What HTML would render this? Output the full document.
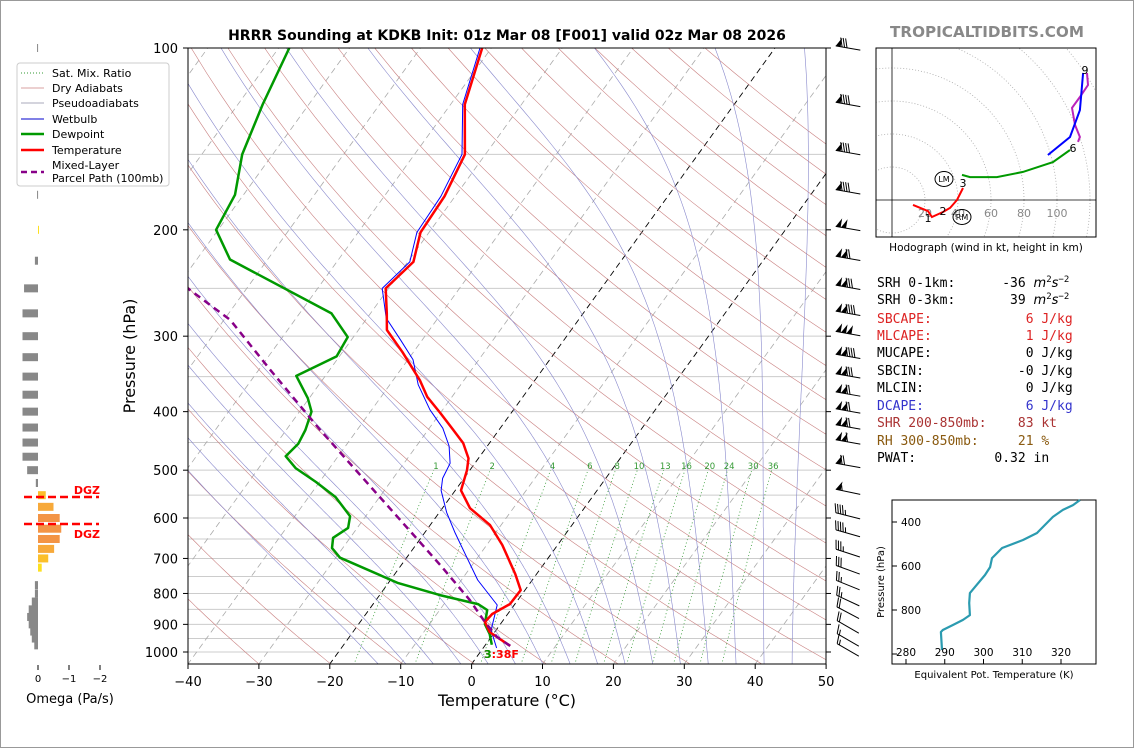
<!DOCTYPE html>
<html><head><meta charset="utf-8"><style>
html,body{margin:0;padding:0;background:#fff}
svg{display:block;font-family:"DejaVu Sans","Liberation Sans",sans-serif}
</style></head><body>
<svg id="s" width="1134" height="748" viewBox="0 0 1134 748" xmlns="http://www.w3.org/2000/svg">
<rect x="0.5" y="0.5" width="1133" height="747" fill="#fff" stroke="#999"/>
<defs>
<clipPath id="cp"><rect x="188" y="48" width="638" height="616"/></clipPath>
<clipPath id="hc"><rect x="876" y="48" width="220" height="189"/></clipPath>
</defs>
<text x="507" y="40" text-anchor="middle" font-size="14" font-weight="bold">HRRR Sounding at KDKB Init: 01z Mar 08 [F001] valid 02z Mar 08 2026</text>
<text x="987" y="37" text-anchor="middle" font-size="15.2" font-weight="bold" fill="#888">TROPICALTIDBITS.COM</text>
<g id="bg" clip-path="url(#cp)"></g>
<g id="series" clip-path="url(#cp)"></g>
<rect x="188" y="48" width="638" height="616" fill="none" stroke="#000"/>
<g id="axes"></g>
<text x="507" y="706" text-anchor="middle" font-size="16">Temperature (°C)</text>
<text transform="translate(135,356) rotate(-90)" text-anchor="middle" font-size="16">Pressure (hPa)</text>
<text x="484" y="658" font-size="11" font-weight="bold" fill="#f00">3:38F</text>
<text x="484" y="658" font-size="11" font-weight="bold" fill="#090">3</text>
<g id="barbs"></g>
<g id="omega"></g>
<g>
<rect x="17" y="63" width="152" height="123" rx="3" fill="#fff" stroke="#ccc"/>
<line x1="21" y1="73" x2="44" y2="73" stroke="#393" stroke-dasharray="1,2"/>
<text x="52" y="77" font-size="11">Sat. Mix. Ratio</text>
<line x1="21" y1="88" x2="44" y2="88" stroke="#d9a0a0"/>
<text x="52" y="92" font-size="11">Dry Adiabats</text>
<line x1="21" y1="103" x2="44" y2="103" stroke="#aab"/>
<text x="52" y="107" font-size="11">Pseudoadiabats</text>
<line x1="21" y1="119" x2="44" y2="119" stroke="#00c"/>
<text x="52" y="123" font-size="11">Wetbulb</text>
<line x1="21" y1="134" x2="44" y2="134" stroke="#090" stroke-width="2.5"/>
<text x="52" y="138" font-size="11">Dewpoint</text>
<line x1="21" y1="150" x2="44" y2="150" stroke="#f00" stroke-width="2.5"/>
<text x="52" y="154" font-size="11">Temperature</text>
<line x1="21" y1="172" x2="44" y2="172" stroke="#808" stroke-width="2.5" stroke-dasharray="6,4"/>
<text x="52" y="169" font-size="11">Mixed-Layer</text>
<text x="52" y="182" font-size="11">Parcel Path (100mb)</text>
</g>
<g id="hodo"></g>
<text x="986" y="251" text-anchor="middle" font-size="10.5">Hodograph (wind in kt, height in km)</text>
<g font-family="'DejaVu Sans Mono','Liberation Mono',monospace" font-size="13">
<text x="877" y="287" xml:space="preserve">SRH 0-1km:      -36 <tspan font-style="italic" font-family="DejaVu Sans">m</tspan><tspan font-size="9" dy="-5">2</tspan><tspan dy="5" font-style="italic" font-family="DejaVu Sans">s</tspan><tspan font-size="9" dy="-5">−2</tspan></text>
<text x="877" y="304" xml:space="preserve">SRH 0-3km:       39 <tspan font-style="italic" font-family="DejaVu Sans">m</tspan><tspan font-size="9" dy="-5">2</tspan><tspan dy="5" font-style="italic" font-family="DejaVu Sans">s</tspan><tspan font-size="9" dy="-5">−2</tspan></text>
<text x="877" y="323" xml:space="preserve" fill="#d22">SBCAPE:            6 J/kg</text>
<text x="877" y="340" xml:space="preserve" fill="#d22">MLCAPE:            1 J/kg</text>
<text x="877" y="357" xml:space="preserve">MUCAPE:            0 J/kg</text>
<text x="877" y="375" xml:space="preserve">SBCIN:            -0 J/kg</text>
<text x="877" y="392" xml:space="preserve">MLCIN:             0 J/kg</text>
<text x="877" y="410" xml:space="preserve" fill="#33c">DCAPE:             6 J/kg</text>
<text x="877" y="427" xml:space="preserve" fill="#a33">SHR 200-850mb:    83 kt</text>
<text x="877" y="445" xml:space="preserve" fill="#8a5a10">RH 300-850mb:     21 %</text>
<text x="877" y="462" xml:space="preserve">PWAT:          0.32 in</text>
</g>
<g id="thetae"></g>
</svg>
<script>
// ---- Skew-T data ----
const tempP = [977,927,892,865,833,790,743,665,616,578,540,500,478,451,426,402,378,355,319,293,275,250,226,202,176,150,124,100];
const tempC = [3.6,-0.7,-2.4,-2.2,-0.7,-0.6,-3.0,-7.8,-11.6,-16.1,-19.2,-20.4,-21.4,-23.7,-26.8,-30.0,-33.5,-36.2,-41.5,-46.0,-47.7,-50.4,-49.2,-51.2,-51.5,-52.9,-58.0,-61.3];
const dewP = [973,934,899,852,833,805,769,698,673,647,623,596,554,523,496,474,452,429,400,380,349,324,301,275,224,200,175,150,124,100];
const dewC = [0.9,-0.5,-2.2,-3.3,-5.2,-11.5,-18.6,-29.4,-31.5,-32.4,-31.3,-32.2,-36.2,-40.5,-44.8,-47.4,-46.9,-47.3,-48.3,-50.2,-54.1,-50.4,-50.8,-55.5,-75.3,-80.3,-81.2,-84.3,-86.5,-88.5];
const wbP = [985,920,836,760,690,635,587,540,516,487,456,426,397,361,328,304,280,250,226,202,176,150,124,100];
const wbC = [1.9,-0.7,-2.4,-7.7,-12.0,-15.7,-19.0,-22.0,-23.0,-23.5,-25.4,-28.1,-31.8,-36.0,-39.3,-43.1,-47.3,-50.9,-49.7,-51.7,-52.0,-53.3,-58.3,-61.6];
const parcelP = [977,944,892,820,718,604,509,429,341,282,250];
const parcelC = [3.6,0.8,-2.4,-6.8,-14.5,-24.8,-35.0,-45.2,-58.4,-69.1,-78.3];
const xTicks = [-40,-30,-20,-10,0,10,20,30,40,50];
const pTicks = [100,200,300,400,500,600,700,800,900,1000];
const mixRatios = [1,2,4,6,8,10,13,16,20,24,30,36];
// ---- Omega data ----
const omegaP = [100,125,150,175,200,225,250,275,300,325,350,375,400,425,450,475,500,525,550,575,600,625,650,675,700,725,775,800,825,850,875,900,925,950,975];
const omegaV = [0.03,0.03,0.03,0.03,-0.03,0.1,0.45,0.5,0.5,0.5,0.5,0.5,0.5,0.5,0.5,0.5,0.35,0.07,-0.25,-0.5,-0.7,-0.75,-0.7,-0.52,-0.33,-0.12,0.1,0.1,0.2,0.3,0.35,0.3,0.25,0.2,0.12];
const omegaTicks = [0,-1,-2];
// ---- Wind data (kt, direction deg) ----
const windP = [100,124,149,173,199,223,249,275,297,324,349,374,399,424,449,491,543,595,636,686,731,775,822,861,909,955,992];
const windSpd = [80,90,90,90,100,120,130,140,150,140,130,120,120,120,110,70,55,45,45,35,30,25,25,20,20,15,15];
const windDir = [280,280,280,280,280,280,280,280,280,280,280,280,280,280,280,280,282,284,286,288,290,292,295,298,300,300,300];
// ---- Hodograph data (u,v kt) ----
const hodoRedU = [12.7,21.8,24.2,30.9,35.2,39.4,43.0];
const hodoRedV = [-3.0,-6.7,-10.3,-7.3,-4.8,0,7.3];
const hodoGreenU = [42.4,47.3,63.6,79.4,97.6,107.9];
const hodoGreenV = [15.2,13.9,13.9,17.0,23.0,30.3];
const hodoBlueU = [94.5,107.9,113.9,115.8];
const hodoBlueV = [27.3,38.2,54.5,77.0];
const hodoMagU = [112.7,113.9,110.9,109.1,113.9,118.8,118.2];
const hodoMagV = [35.2,38.2,45.5,55.8,62.4,69.7,77.0];
const hodoRings = [20,40,60,80,100,120,140];
const hodoRingLabels = [20,40,60,80,100];
// ---- Theta-E data ----
const thetaP = [982,900,891,868,845,823,768,723,695,641,605,564,518,482,450,377,345,323,300];
const thetaK = [289.3,289.0,289.5,292.1,294.7,296.5,296.3,296.5,297.8,300.4,301.7,302.2,304.8,310.2,313.8,317.9,320.5,323.1,324.9];
const thetaXTicks = [280,290,300,310,320];
const thetaYTicks = [400,600,800];

const NS='http://www.w3.org/2000/svg';
function mk(tag,attrs,parent){const e=document.createElementNS(NS,tag);for(const k in attrs)e.setAttribute(k,attrs[k]);parent.appendChild(e);return e;}
const yP=p=>48+(Math.log10(p)-2)*604;
const xT=(T,p)=>188+(T+40)*7.09+(664-yP(p))*0.7227;
const bg=document.getElementById('bg'), ser=document.getElementById('series'), ax=document.getElementById('axes');
function path(pts){return pts.map((q,i)=>(i?'L':'M')+q[0].toFixed(1)+','+q[1].toFixed(1)).join('');}

for(let p=100;p<=1050;p+=50){
  const l=mk('line',{x1:188,x2:826,y1:yP(p),y2:yP(p),stroke:'#ccc','stroke-width':1},bg);
  
  
}
for(let T=-120;T<=50;T+=10){
  const blk=(T===0||T===-20);
  const l=mk('line',{x1:xT(T,1050),y1:yP(1050),x2:xT(T,100),y2:yP(100),stroke:blk?'#000':'#aaa','stroke-width':blk?0.9:0.8,'stroke-dasharray':'6,4'},bg);
  
  
}
for(let th=230;th<=470;th+=10){
  const pts=[];for(let p=1050;p>=100;p-=10)pts.push([xT(th*Math.pow(p/1000,0.286)-273.15,p),yP(p)]);
  const e=mk('path',{d:path(pts),fill:'none',stroke:'#c98080','stroke-width':0.6},bg);
  
  
}
function lapse(T,p){const Rd=287.04,Cp=1005.7,L=2.501e6,eps=0.622;const es=6.112*Math.exp(17.67*(T-273.15)/(T-29.65));const rs=eps*es/(p-es);return (Rd*T+L*rs)/(Cp+L*L*rs*eps/(Rd*T*T))/p;}
for(let T0=-16;T0<=44;T0+=4){
  let T=T0+273.15;const pts=[];
  let Tb=T;for(let p=1000;p<1050;p+=5){Tb+=lapse(Tb,p)*5;}
  pts.push([xT(Tb-273.15,1050),yP(1050)]);
  for(let p=1000;p>=100;p-=5){pts.push([xT(T-273.15,p),yP(p)]);T-=lapse(T,p)*5;}
  const e=mk('path',{d:path(pts),fill:'none',stroke:'#8888cc','stroke-width':0.6},bg);
  
  
}
function tdFromW(w,p){const e=p*w/(622+w);const a=Math.log(e/6.112);return 243.5*a/(17.67-a);}
mixRatios.forEach(w=>{
  const pts=[];for(let p=1050;p>=500;p-=10)pts.push([xT(tdFromW(w,p),p),yP(p)]);
  const e=mk('path',{d:path(pts),fill:'none',stroke:'#393','stroke-width':0.8,'stroke-dasharray':'1,2.5'},bg);
  
  
  const t=mk('text',{x:xT(tdFromW(w,490),490),y:yP(490)+4,'font-size':8.5,fill:'#393','text-anchor':'middle'},bg);
  t.textContent=w;
  
  
});
function series(P,C,attrs,name){
  const e=mk('path',Object.assign({d:path(P.map((p,i)=>[xT(C[i],p),yP(p)])),fill:'none','stroke-linejoin':'round'},attrs),ser);
  
  
}
series(wbP,wbC,{stroke:'#00f','stroke-width':1},'wetbulb-line');
series(dewP,dewC,{stroke:'#090','stroke-width':2.5},'dewpoint-line');
series(tempP,tempC,{stroke:'#f00','stroke-width':2.5},'temperature-line');
series(parcelP,parcelC,{stroke:'#808','stroke-width':2.5,'stroke-dasharray':'7,5'},'parcel-path-line');

xTicks.forEach(T=>{
  const x=188+(T+40)*7.09;
  const l=mk('line',{x1:x,x2:x,y1:664,y2:669,stroke:'#000'},ax);
  
  
  const t=mk('text',{x:x,y:686,'font-size':13,'text-anchor':'middle'},ax);
  t.textContent=T<0?'−'+(-T):T;
  
  
});
pTicks.forEach(p=>{
  const y=yP(p);
  const l=mk('line',{x1:183,x2:188,y1:y,y2:y,stroke:'#000'},ax);
  
  
  const r=mk('line',{x1:826,x2:831,y1:y,y2:y,stroke:'#000'},ax);
  
  
  const t=mk('text',{x:178,y:y+5,'font-size':13,'text-anchor':'end'},ax);
  t.textContent=p;
  
  
});

const bb=document.getElementById('barbs');
windP.forEach((p,i)=>{
  const y=yP(p), L=25;
  const d=windDir[i]*Math.PI/180;
  const sx=Math.sin(d), sy=-Math.cos(d);
  const bx=848-sx*L/2, by=y-sy*L/2;
  const tx=bx+sx*L, ty=by+sy*L;
  const nx=-sy, ny=sx;
  const g=mk('g',{},bb);
  
  
  mk('line',{x1:bx,y1:by,x2:tx,y2:ty,stroke:'#000','stroke-width':1},g);
  let s=windSpd[i], pos=0;
  const pt=k=>[tx-sx*k, ty-sy*k];
  while(s>=50){const a=pt(pos),b=pt(pos+5);mk('polygon',{points:`${a[0]},${a[1]} ${b[0]},${b[1]} ${b[0]+nx*9},${b[1]+ny*9}`,fill:'#000'},g);pos+=5.5;s-=50;}
  if(pos>0)pos+=1;
  while(s>=10){const a=pt(pos);mk('line',{x1:a[0],y1:a[1],x2:a[0]+nx*9+sx*3,y2:a[1]+ny*9+sy*3,stroke:'#000','stroke-width':1},g);pos+=2.5;s-=10;}
  if(s>=5){if(pos===0)pos=2.5;const a=pt(pos);mk('line',{x1:a[0],y1:a[1],x2:a[0]+nx*5+sx*1.6,y2:a[1]+ny*5+sy*1.6,stroke:'#000','stroke-width':1},g);}
});

const om=document.getElementById('omega');
const ox=v=>38-v*31;
omegaP.forEach((p,i)=>{
  const v=omegaV[i], y=yP(p);
  let c='#888';
  if(v<0){c=v<-0.6?'#f39445':(v<-0.4?'#f7a93a':(v<-0.2?'#fbbf2a':'#fde021'));}
  const r=mk('rect',{x:Math.min(38,ox(v)),y:y-4,width:Math.max(1,Math.abs(v)*31),height:8,fill:c},om);
  
  
});
omegaTicks.forEach(v=>{
  const l=mk('line',{x1:ox(v),x2:ox(v),y1:665,y2:670,stroke:'#000'},om);
  
  
  const t=mk('text',{x:ox(v),y:682,'font-size':10,'text-anchor':'middle'},om);
  t.textContent=v<0?'−'+(-v):v;
  
  
});
[497,524].forEach((y,k)=>{
  const l=mk('line',{x1:24,x2:99,y1:y,y2:y,stroke:'#f00','stroke-width':2.5,'stroke-dasharray':'8,4'},om);
  
  
  const t=mk('text',{x:100,y:k?538:494,'font-size':11,'font-weight':'bold',fill:'#f00','text-anchor':'end'},om);
  t.textContent='DGZ';
  
  
});
{const t=mk('text',{x:70,y:703,'font-size':13,'text-anchor':'middle'},om);t.textContent='Omega (Pa/s)';

}

const ho=document.getElementById('hodo');
const hx=u=>892+u*1.65, hy=v=>200-v*1.65;
const hg=mk('g',{'clip-path':'url(#hc)'},ho);
hodoRings.forEach(r=>{
  const c=mk('circle',{cx:hx(0),cy:hy(0),r:r*1.65,fill:'none',stroke:'#aaa','stroke-width':0.8,'stroke-dasharray':'1,2'},hg);
  
  
});
mk('line',{x1:876,x2:1096,y1:hy(0),y2:hy(0),stroke:'#000','stroke-width':0.8},hg);
mk('line',{x1:hx(0),x2:hx(0),y1:48,y2:237,stroke:'#000','stroke-width':0.8},hg);
hodoRingLabels.forEach(r=>{
  const t=mk('text',{x:hx(r),y:hy(0)+17,'font-size':11,fill:'#888','text-anchor':'middle'},hg);
  t.textContent=r;
  
  
});
function hline(U,V,col,name){
  const e=mk('path',{d:path(U.map((u,i)=>[hx(u),hy(V[i])])),fill:'none',stroke:col,'stroke-width':2},hg);
  
  
}
hline(hodoRedU,hodoRedV,'#f00','hodograph-0-3km');
hline(hodoGreenU,hodoGreenV,'#090','hodograph-3-6km');
hline(hodoMagU,hodoMagV,'#b2b','hodograph-6-9km-alt');
hline(hodoBlueU,hodoBlueV,'#00f','hodograph-6-9km');
[['1',928,222],['2',943,215],['3',963,187],['6',1073,152],['9',1085,74]].forEach(a=>{
  const t=mk('text',{x:a[1],y:a[2],'font-size':11,'text-anchor':'middle'},hg);t.textContent=a[0];
  
  
});
[['LM',944,179],['RM',962,217]].forEach(a=>{
  const c=mk('ellipse',{cx:a[1],cy:a[2],rx:9,ry:7.5,fill:'none',stroke:'#000'},hg);
  
  
  const t=mk('text',{x:a[1],y:a[2]+3,'font-size':8,'text-anchor':'middle'},hg);t.textContent=a[0];
  
  
});
mk('rect',{x:876,y:48,width:220,height:189,fill:'none',stroke:'#000'},ho);

const te=document.getElementById('thetae');
const tx=k=>906+(k-280)*3.875, ty=p=>522+(p-400)*0.22;
mk('rect',{x:892,y:500,width:204,height:164,fill:'none',stroke:'#000'},te);
{const e=mk('path',{d:path(thetaP.map((p,i)=>[tx(thetaK[i]),ty(p)])),fill:'none',stroke:'#2b9bb0','stroke-width':2.2,'stroke-linejoin':'round'},te);

}
thetaXTicks.forEach(k=>{
  mk('line',{x1:tx(k),x2:tx(k),y1:664,y2:659,stroke:'#000'},te);
  const t=mk('text',{x:tx(k),y:656,'font-size':10.5,'text-anchor':'middle'},te);t.textContent=k;
  
  
});
thetaYTicks.concat([1000]).forEach(p=>{
  mk('line',{x1:892,x2:897,y1:ty(p),y2:ty(p),stroke:'#000'},te);
  if(p<1000){const t=mk('text',{x:901,y:ty(p)+4,'font-size':10.5},te);t.textContent=p;
  
  }
});
{const t=mk('text',{x:994,y:678,'font-size':10,'text-anchor':'middle'},te);t.textContent='Equivalent Pot. Temperature (K)';


const t2=mk('text',{transform:'translate(884,582) rotate(-90)','font-size':10,'text-anchor':'middle'},te);t2.textContent='Pressure (hPa)';

}
</script>
</body></html>
